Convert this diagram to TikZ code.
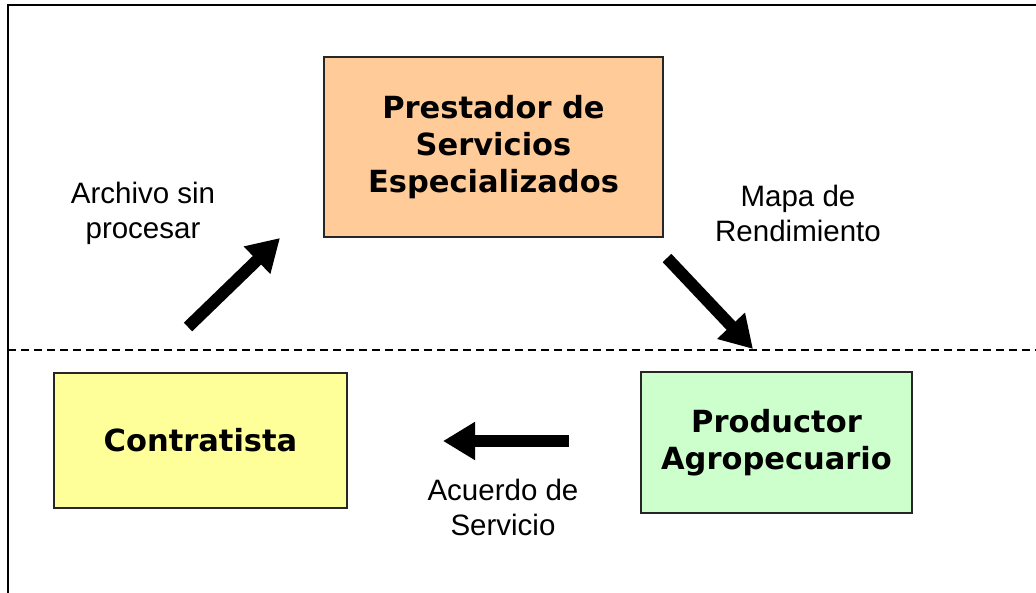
\documentclass[tikz,border=0pt]{standalone}
\usepackage{fontspec}
\setmainfont{Liberation Sans}
\newfontfamily\boxfont{DejaVu Sans}
\usepackage{tikz}
\usetikzlibrary{arrows.meta,positioning}
\definecolor{orangex}{HTML}{FFCC99}
\definecolor{yellowx}{HTML}{FFFF99}
\definecolor{greenx}{HTML}{CCFFCC}
\tikzset{
  blk/.style={draw=black!85,line width=2pt,align=center,inner sep=4pt,font=\boxfont\bfseries\fontsize{30.5}{37}\selectfont},
  lbl/.style={align=center,inner sep=0pt,font=\fontsize{29.5}{35}\selectfont},
  flow/.style={line width=12pt,-{Triangle[length=32pt,width=36pt]},black}
}
\begin{document}
\begin{tikzpicture}[x=1pt,y=-1pt]
\useasboundingbox (0,0) rectangle (1036,592);
\draw[line width=2pt] (7.5,600) |- (1040,5);
\draw[line width=2pt,dash pattern=on 8pt off 5pt] (8,350) -- (1036,350);
% boxes
\node[blk,fill=orangex,minimum width=339pt,minimum height=180pt] (prest) at (493.5,147) {Prestador de\\Servicios\\Especializados};
\node[blk,fill=yellowx,minimum width=293pt,minimum height=135pt] (contr) at (200.5,440.5) {Contratista};
\node[blk,fill=greenx,minimum width=271pt,minimum height=141pt] (prod) at (776.5,442.5) {Productor\\Agropecuario};
% labels
\node[lbl] (archivo) at (143,213) {Archivo sin\\procesar};
\node[lbl] (mapa) at (798,213) {Mapa de\\Rendimiento};
\node[lbl] (acuerdo) at (503,507) {Acuerdo de\\Servicio};
% arrows
\coordinate (a1) at (188,327); \coordinate (b1) at (280,238);
\coordinate (a2) at (667,258); \coordinate (b2) at (753,349);
\coordinate (a3) at (569,441); \coordinate (b3) at (443,441);
\draw[flow] (a1) -- (b1);
\draw[flow] (a2) -- (b2);
\draw[flow] (a3) -- (b3);
\end{tikzpicture}
\end{document}
